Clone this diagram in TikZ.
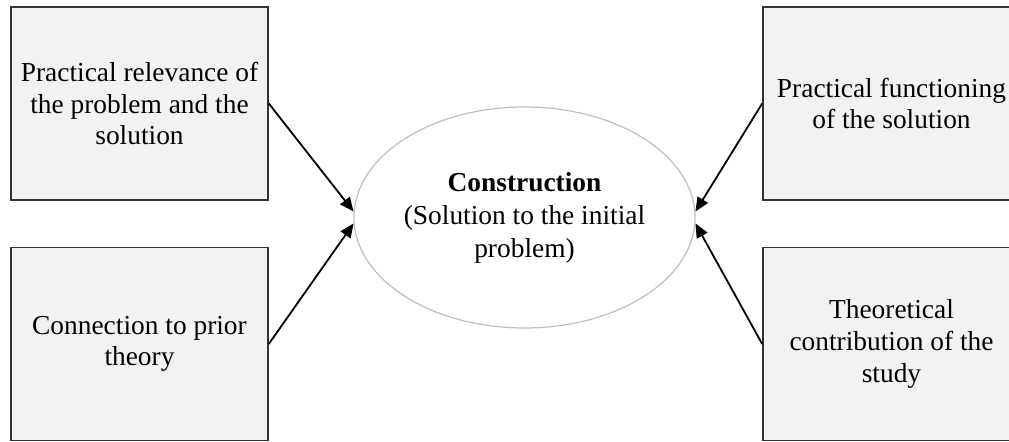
\documentclass[tikz,border=0pt]{standalone}
\usepackage{fontspec}
\setmainfont{Liberation Serif}
\usetikzlibrary{arrows.meta,shapes.geometric}

\begin{document}
\begin{tikzpicture}[x=0.5pt,y=-0.5pt,
  box/.style={draw=black!80,line width=0.8pt,fill=black!5,minimum width=128.5pt,minimum height=96.5pt,inner sep=0pt,align=center,font=\fontsize{13.7}{15.8}\selectfont},
  goal/.style={ellipse,draw=black!25,line width=0.6pt,minimum width=165.5pt,minimum height=110.5pt,inner sep=0pt,align=center,font=\fontsize{13.7}{16.5}\selectfont},
  arr/.style={-{Triangle[length=7pt,width=6pt]},line width=0.9pt}]
\path[use as bounding box,clip] (0,0) rectangle (1009,442);
\node[box] (rel) at (139.5,103.5) {Practical relevance of\\the problem and the\\solution};
\node[box] (prior) at (139.5,344) {Connection to prior\\theory};
\node[box] (func) at (891.5,103.5) {Practical functioning\\of the solution};
\node[box] (contrib) at (891.5,344) {Theoretical\\contribution of the\\study};
\node[goal] (con) at (524.5,217.5) {\textbf{Construction}\\(Solution to the initial\\problem)};
\draw[arr] (rel.east) -- (con.178);
\draw[arr] (prior.east) -- (con.182);
\draw[arr] (func.west) -- (con.2);
\draw[arr] (contrib.west) -- (con.358);
\end{tikzpicture}
\end{document}
